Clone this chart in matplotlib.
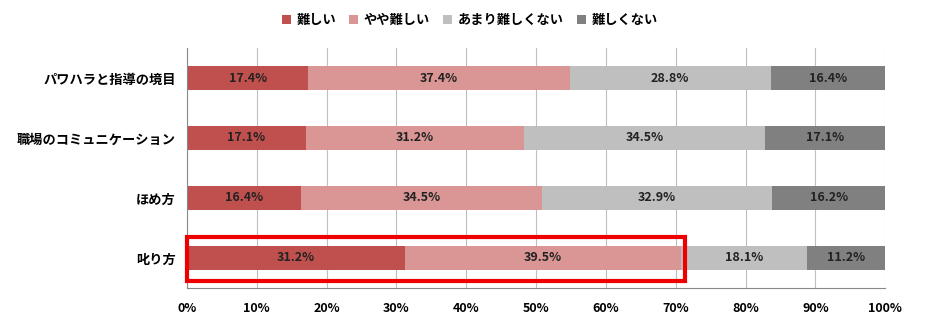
import matplotlib.pyplot as plt
from matplotlib.patches import Rectangle
from matplotlib.ticker import PercentFormatter

plt.rcParams['font.family'] = ['Noto Sans CJK JP', 'DejaVu Sans']

# データ
categories = ["パワハラと指導の境目", "職場のコミュニケーション", "ほめ方", "叱り方"]
series_names = ["難しい", "やや難しい", "あまり難しくない", "難しくない"]
muzukashii = [17.4, 17.1, 16.4, 31.2]
yaya = [37.4, 31.2, 34.5, 39.5]
amari = [28.8, 34.5, 32.9, 18.1]
nai = [16.4, 17.1, 16.2, 11.2]
colors = ["#C0504D", "#D99694", "#BFBFBF", "#808080"]

fig = plt.figure(figsize=(9.25, 3.29), dpi=100)
ax = fig.add_axes([0.202, 0.125, 0.755, 0.729])

y = list(range(len(categories)))
left = [0] * len(categories)
for name, vals, col in zip(series_names, [muzukashii, yaya, amari, nai], colors):
    ax.barh(y, vals, left=left, height=0.4, color=col, label=name, zorder=2)
    for yi, l, v in zip(y, left, vals):
        ax.text(l + v / 2, yi, f"{v}%", ha="center", va="center",
                fontsize=9, fontweight="bold", color="#222222", zorder=3)
    left = [a + b for a, b in zip(left, vals)]

ax.set_xlim(0, 100)
ax.set_ylim(3.5, -0.5)
ax.set_yticks(y)
ax.set_yticklabels(categories, fontsize=9.5, fontweight="bold")
ax.set_xticks(range(0, 101, 10))
ax.xaxis.set_major_formatter(PercentFormatter(decimals=0))
for lbl in ax.get_xticklabels():
    lbl.set_fontweight("bold")
    lbl.set_fontsize(9)
ax.tick_params(axis="both", length=0, pad=8)
ax.tick_params(axis="x", pad=10)
ax.grid(axis="x", color="#BFBFBF", linewidth=0.8, zorder=0)
for s in ["top", "right"]:
    ax.spines[s].set_visible(False)
for s in ["left", "bottom"]:
    ax.spines[s].set_color("#888888")

# 叱り方を強調する赤枠
ax.add_patch(Rectangle((0, 3 - 0.35), 71.3, 0.73, fill=False,
                       edgecolor="#EE0000", linewidth=3, zorder=4, clip_on=False))

ax.legend(loc="center", bbox_to_anchor=(0.405, 1.117), ncol=4, frameon=False,
          prop={"size": 9.5, "weight": "bold"}, handlelength=0.7, handleheight=0.7,
          handletextpad=0.4, columnspacing=1.0)

plt.savefig("out.png", dpi=100)
